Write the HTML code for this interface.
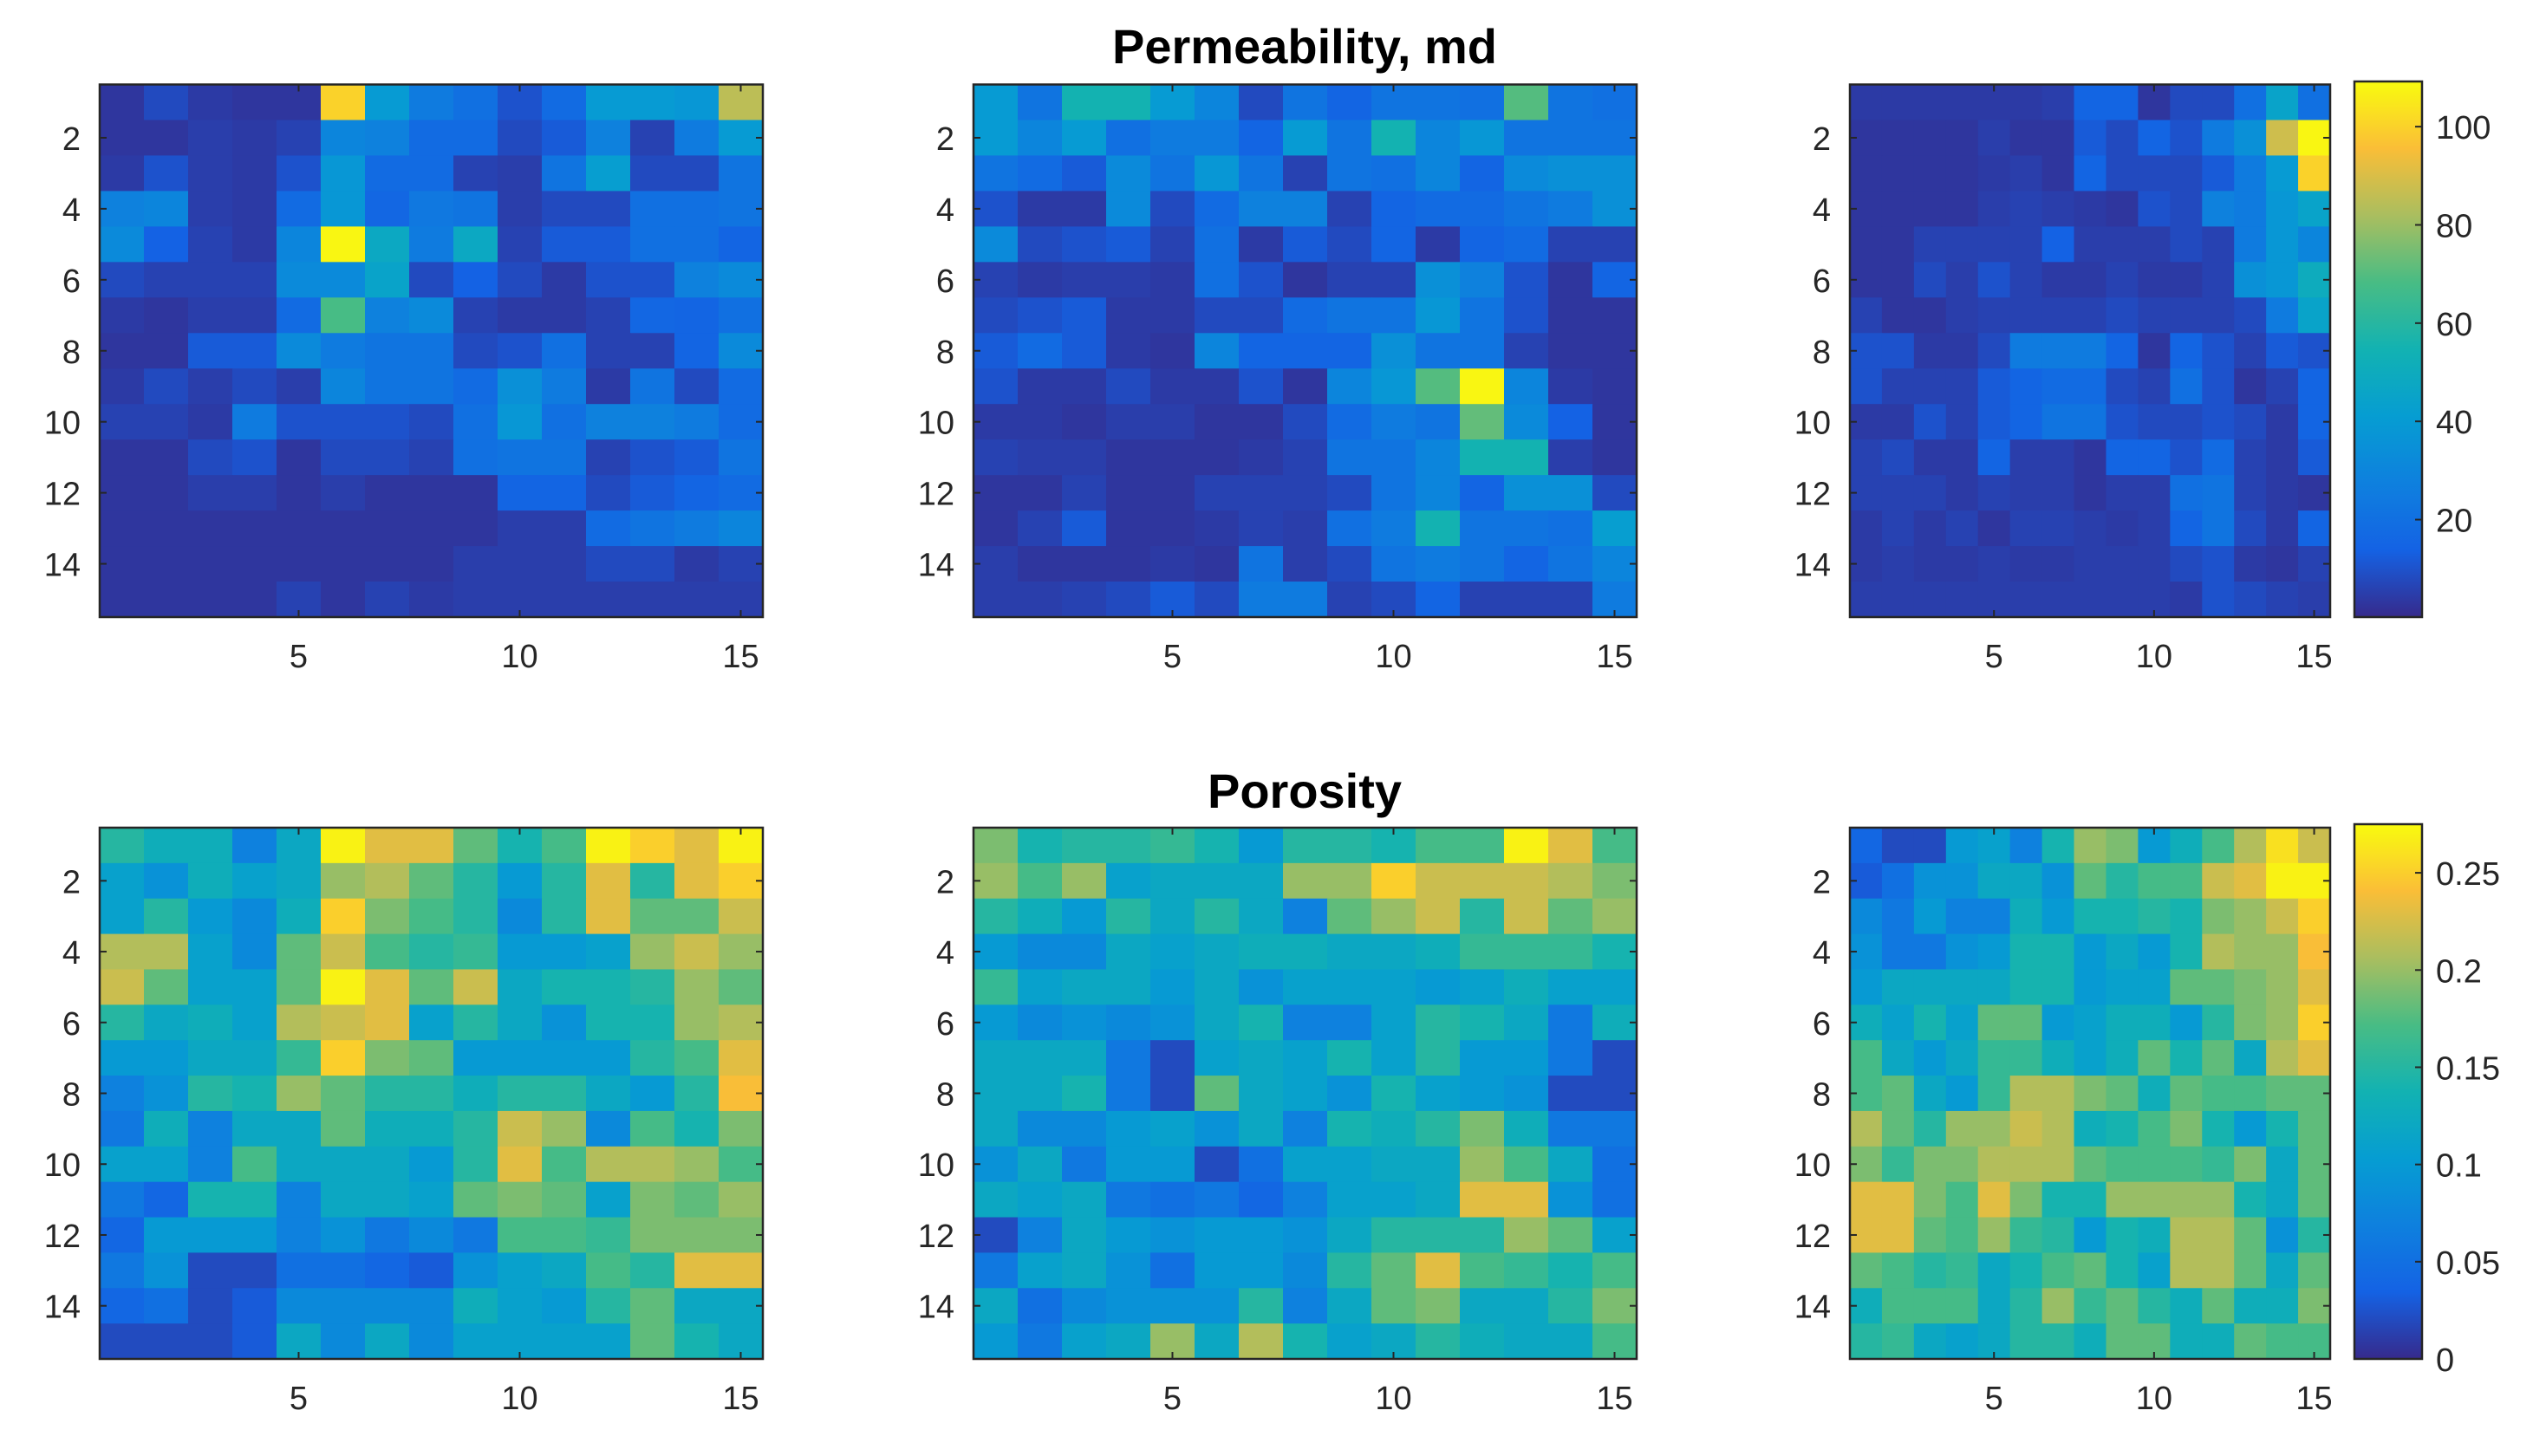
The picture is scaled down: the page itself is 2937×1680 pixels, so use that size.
<!DOCTYPE html>
<html><head><meta charset="utf-8"><style>
html,body{margin:0;padding:0;background:#fff;}
svg{display:block;}
text{font-family:"Liberation Sans",Arial,sans-serif;fill:#262626;}
</style></head><body>
<svg id="fig" width="2937" height="1680" viewBox="0 0 2937 1680" xmlns="http://www.w3.org/2000/svg">
<rect width="2937" height="1680" fill="#fff"/>
<text x="1505" y="73" font-size="56" font-weight="bold" text-anchor="middle" style="fill:#000">Permeability, md</text>
<text x="1505" y="932" font-size="56" font-weight="bold" text-anchor="middle" style="fill:#000">Porosity</text>
</svg>
<script>
const xTicks=[5,10,15];
const yTicks=[2,4,6,8,10,12,14];
const permTicks=[20,40,60,80,100];
const poroTicks=[0,0.05,0.1,0.15,0.2,0.25];
const permLimits=[0.16,109.2];
const poroLimits=[0,0.275];
const permLeft=[
[3,8,4,3,3,100,40,25,20,10,18,40,40,38,85],
[3,3,5,4,6,30,28,18,18,8,12,28,6,25,40],
[4,10,5,4,10,38,18,18,6,5,22,42,8,8,22],
[28,30,5,4,18,38,16,24,22,5,8,8,20,20,22],
[32,14,6,4,30,108,48,25,48,6,12,12,20,20,15],
[8,6,6,6,32,32,45,8,14,8,4,10,10,28,32],
[4,3,5,5,18,68,28,32,6,4,4,6,16,15,20],
[3,3,12,12,32,25,22,22,8,10,20,6,6,15,32],
[4,8,5,8,5,30,22,22,18,35,25,4,22,8,18],
[6,6,4,25,10,10,10,8,20,38,20,28,28,25,18],
[3,3,8,10,3,8,8,6,20,22,22,6,10,12,22],
[3,3,5,5,3,5,3,3,3,15,15,8,12,15,18],
[3,3,3,3,3,3,3,3,3,5,5,18,22,25,30],
[3,3,3,3,3,3,3,3,5,5,5,8,8,4,6],
[3,3,3,3,6,3,6,4,5,5,5,5,5,5,5]];
const permMid=[
[40,22,55,55,40,30,8,22,15,22,22,20,70,22,20],
[40,30,40,20,25,25,15,40,22,55,30,38,22,22,22],
[22,18,12,32,22,38,22,6,22,20,30,15,32,35,35],
[10,4,4,32,8,18,28,28,6,15,18,18,22,25,35],
[32,8,10,12,6,20,4,12,8,15,4,15,18,6,6],
[6,4,5,5,4,20,10,3,6,6,35,28,10,3,15],
[8,10,12,4,4,8,8,18,22,22,38,22,10,3,3],
[12,18,12,4,3,30,15,15,15,35,22,22,6,3,3],
[10,4,4,8,4,4,10,3,30,38,70,108,30,4,3],
[4,4,3,5,5,3,3,8,18,25,22,72,32,14,3],
[6,5,5,3,3,3,4,6,22,22,30,55,55,5,3],
[3,3,6,3,3,6,6,6,8,22,30,15,35,35,8],
[3,6,12,3,3,4,6,5,20,25,55,22,22,20,42],
[5,3,3,3,4,3,22,5,8,22,25,22,15,22,30],
[5,5,6,8,12,8,25,25,6,8,15,6,6,6,25]];
const permRight=[
[4,4,4,4,4,4,5,15,15,3,8,8,20,45,20],
[3,3,3,3,5,3,3,12,8,15,10,25,35,88,108],
[3,3,3,3,4,5,3,15,8,8,8,12,25,40,100],
[3,3,3,3,5,6,5,4,3,10,8,28,25,38,45],
[3,3,6,6,6,6,14,5,5,5,8,6,25,38,30],
[3,3,8,5,10,6,4,4,6,4,4,6,35,38,50],
[6,3,3,5,6,6,6,6,8,6,6,6,8,25,45],
[10,10,4,4,8,25,25,25,15,3,15,10,6,12,10],
[10,6,6,6,12,15,18,18,8,6,20,10,3,6,15],
[4,4,10,6,12,15,22,22,10,8,8,10,8,4,15],
[6,8,4,4,15,5,5,3,15,15,10,18,6,4,12],
[6,6,6,4,6,5,5,3,5,5,20,22,6,4,3],
[4,6,4,6,3,6,6,5,4,5,15,22,8,4,15],
[4,5,4,4,5,4,4,5,5,5,8,10,4,3,6],
[5,5,5,5,5,5,5,5,5,5,4,10,8,6,5]];
const poroLeft=[
[.15,.13,.13,.07,.12,.27,.23,.23,.18,.14,.17,.27,.25,.23,.27],
[.11,.09,.13,.11,.12,.20,.21,.18,.15,.10,.15,.23,.15,.23,.25],
[.11,.15,.10,.08,.13,.25,.19,.17,.15,.08,.15,.23,.18,.18,.22],
[.21,.21,.11,.08,.18,.22,.17,.15,.16,.10,.10,.11,.20,.22,.20],
[.22,.18,.11,.11,.18,.27,.23,.18,.22,.12,.14,.14,.15,.20,.18],
[.15,.12,.13,.11,.21,.22,.23,.11,.15,.12,.09,.14,.14,.20,.21],
[.10,.10,.12,.12,.16,.25,.19,.18,.10,.10,.10,.10,.15,.17,.23],
[.07,.09,.15,.14,.20,.18,.15,.15,.13,.15,.15,.12,.10,.15,.24],
[.06,.13,.07,.12,.12,.18,.13,.13,.15,.22,.20,.08,.17,.14,.19],
[.11,.11,.07,.17,.12,.12,.12,.10,.15,.23,.17,.21,.21,.20,.17],
[.06,.04,.14,.14,.07,.12,.12,.11,.18,.19,.18,.11,.19,.18,.20],
[.04,.10,.10,.10,.07,.09,.06,.08,.06,.17,.17,.16,.19,.19,.19],
[.06,.09,.02,.02,.05,.05,.04,.03,.09,.11,.12,.17,.15,.23,.23],
[.04,.05,.02,.03,.08,.08,.08,.08,.13,.11,.10,.15,.18,.12,.12],
[.02,.02,.02,.03,.12,.08,.12,.08,.11,.11,.11,.11,.18,.14,.12]];
const poroMid=[
[.19,.14,.15,.15,.16,.14,.10,.15,.15,.14,.17,.17,.27,.23,.17],
[.20,.17,.20,.11,.12,.12,.12,.20,.20,.25,.22,.22,.22,.21,.19],
[.15,.13,.10,.15,.12,.15,.12,.07,.18,.20,.22,.15,.22,.18,.20],
[.10,.08,.08,.12,.11,.12,.13,.13,.12,.12,.13,.16,.16,.16,.14],
[.16,.11,.12,.12,.10,.12,.09,.11,.11,.11,.10,.11,.13,.11,.11],
[.10,.08,.09,.08,.09,.12,.14,.07,.07,.11,.15,.14,.12,.06,.13],
[.12,.12,.12,.06,.02,.11,.12,.11,.14,.11,.15,.10,.10,.06,.02],
[.12,.12,.14,.06,.02,.18,.12,.11,.09,.14,.11,.10,.09,.02,.02],
[.12,.08,.08,.10,.11,.09,.12,.07,.14,.13,.15,.19,.13,.06,.06],
[.09,.12,.06,.10,.10,.02,.05,.11,.11,.12,.12,.20,.17,.12,.05],
[.12,.11,.12,.06,.05,.06,.04,.07,.11,.11,.12,.23,.23,.09,.05],
[.02,.07,.12,.10,.09,.10,.10,.09,.12,.15,.15,.15,.20,.18,.11],
[.06,.11,.12,.09,.05,.10,.10,.08,.15,.18,.23,.17,.16,.14,.17],
[.12,.05,.08,.09,.09,.09,.15,.07,.12,.18,.19,.12,.12,.15,.19],
[.10,.06,.11,.12,.20,.12,.21,.14,.11,.12,.15,.13,.12,.12,.17]];
const poroRight=[
[.04,.02,.02,.10,.11,.07,.14,.20,.19,.10,.13,.17,.21,.26,.22],
[.03,.05,.09,.09,.12,.12,.09,.18,.15,.17,.17,.22,.23,.27,.27],
[.08,.06,.10,.07,.07,.13,.10,.14,.14,.15,.14,.19,.20,.22,.25],
[.09,.06,.06,.09,.10,.14,.14,.10,.12,.10,.14,.21,.20,.20,.24],
[.10,.12,.12,.12,.12,.14,.14,.10,.11,.11,.18,.18,.19,.20,.23],
[.13,.11,.14,.11,.18,.18,.10,.11,.13,.13,.10,.15,.19,.20,.25],
[.17,.12,.10,.12,.16,.16,.13,.11,.13,.18,.14,.18,.12,.21,.23],
[.17,.18,.12,.10,.16,.21,.21,.19,.18,.13,.18,.17,.17,.18,.18],
[.21,.18,.15,.20,.20,.22,.21,.13,.14,.17,.19,.14,.10,.14,.18],
[.19,.16,.19,.19,.21,.21,.21,.18,.17,.17,.17,.16,.19,.12,.18],
[.23,.23,.19,.17,.23,.19,.14,.14,.20,.20,.20,.20,.14,.12,.18],
[.23,.23,.18,.17,.20,.16,.15,.10,.14,.13,.21,.21,.18,.09,.15],
[.18,.17,.15,.16,.12,.14,.17,.18,.14,.11,.21,.21,.18,.12,.18],
[.13,.17,.17,.17,.12,.15,.20,.16,.18,.15,.13,.18,.13,.13,.19],
[.15,.16,.12,.11,.12,.15,.15,.13,.18,.18,.13,.13,.18,.17,.17]];

const NS="http://www.w3.org/2000/svg";
const svg=document.getElementById('fig');
const cmap=[[0,54,42,140],[0.125,20,98,228],[0.25,14,128,222],[0.375,6,157,210],[0.5,18,178,178],[0.625,72,188,132],[0.75,170,190,95],[0.875,250,190,55],[1,249,251,14]];
function color(t){t=Math.max(0,Math.min(1,t));for(let i=1;i<cmap.length;i++){if(t<=cmap[i][0]){const a=cmap[i-1],b=cmap[i];const f=(t-a[0])/(b[0]-a[0]);return 'rgb('+[1,2,3].map(k=>Math.round(a[k]+(b[k]-a[k])*f)).join(',')+')';}}return 'rgb(249,251,14)';}
function mk(tag,attrs,parent){const e=document.createElementNS(NS,tag);for(const k in attrs)e.setAttribute(k,attrs[k]);(parent||svg).appendChild(e);return e;}

function drawPanel(data,lim,x0,y0,w,h,name){
  const g=mk('g',{});
  
  
  const nr=data.length,nc=data[0].length;
  const xs=c=>x0+(c-0.5)*w/nc;
  const ys=r=>y0+(r-0.5)*h/nr;
  const cw=w/nc,ch=h/nr;
  data.forEach((row,ri)=>row.forEach((v,ci)=>{
    const r=mk('rect',{x:(xs(ci+1)-cw/2).toFixed(2),y:(ys(ri+1)-ch/2).toFixed(2),width:(cw+0.6).toFixed(2),height:(ch+0.6).toFixed(2),fill:color((v-lim[0])/(lim[1]-lim[0]))},g);
    
    
  }));
  const b=mk('rect',{x:x0,y:y0,width:w,height:h,fill:'none',stroke:'#262626','stroke-width':2.5},g);
  
  
  xTicks.forEach(t=>{
    const x=xs(t);
    mk('line',{x1:x,x2:x,y1:y0+h,y2:y0+h-8,stroke:'#262626','stroke-width':2},g);
    mk('line',{x1:x,x2:x,y1:y0,y2:y0+8,stroke:'#262626','stroke-width':2},g);
    const tx=mk('text',{x:x,y:y0+h+58,'font-size':38,'text-anchor':'middle'},g);
    tx.textContent=t;
    
    
  });
  yTicks.forEach(t=>{
    const y=ys(t);
    mk('line',{x1:x0,x2:x0+8,y1:y,y2:y,stroke:'#262626','stroke-width':2},g);
    mk('line',{x1:x0+w,x2:x0+w-8,y1:y,y2:y,stroke:'#262626','stroke-width':2},g);
    const tx=mk('text',{x:x0-22,y:y+14,'font-size':38,'text-anchor':'end'},g);
    tx.textContent=t;
    
    
  });
}
function drawColorbar(lim,ticks,x0,y0,w,h,name,id){
  const g=mk('g',{});
  
  
  const defs=mk('defs',{},g);
  const lg=mk('linearGradient',{id:id,x1:0,y1:1,x2:0,y2:0},defs);
  for(let i=0;i<=32;i++){mk('stop',{offset:i/32,'stop-color':color(i/32)},lg);}
  const r=mk('rect',{x:x0,y:y0,width:w,height:h,fill:'url(#'+id+')',stroke:'#262626','stroke-width':2.5},g);
  
  
  const ys=v=>y0+h-(v-lim[0])/(lim[1]-lim[0])*h;
  ticks.forEach(t=>{
    const y=ys(t);
    mk('line',{x1:x0+w,x2:x0+w-8,y1:y,y2:y,stroke:'#262626','stroke-width':2},g);
    const tx=mk('text',{x:x0+w+16,y:y+14,'font-size':38},g);
    tx.textContent=t;
    
    
  });
}
const PW=765,PH=614.5;
drawPanel(permLeft,permLimits,115,97.5,PW,PH,'permeability-left-heatmap');
drawPanel(permMid,permLimits,1123,97.5,PW,PH,'permeability-middle-heatmap');
drawPanel(permRight,permLimits,2134,97.5,554,PH,'permeability-right-heatmap');
drawColorbar(permLimits,permTicks,2716,94,78,618,'permeability-colorbar','gperm');
drawPanel(poroLeft,poroLimits,115,955,PW,613,'porosity-left-heatmap');
drawPanel(poroMid,poroLimits,1123,955,PW,613,'porosity-middle-heatmap');
drawPanel(poroRight,poroLimits,2134,955,554,613,'porosity-right-heatmap');
drawColorbar(poroLimits,poroTicks,2716,951,78,617,'porosity-colorbar','gporo');
</script>
</body></html>
